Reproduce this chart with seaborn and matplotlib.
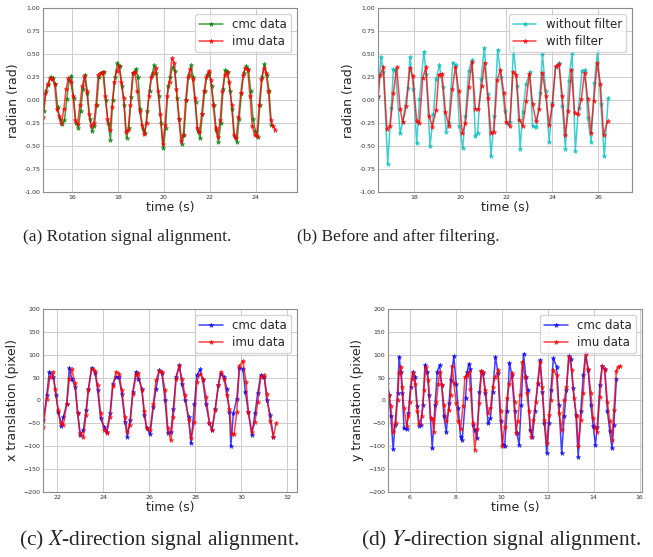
"""
Signal alignment figure: rotation, filtering, x / y translation.
Four panels with sub-captions, values read from the reference plots.
"""

import numpy as np
import pandas as pd
import matplotlib
matplotlib.use("Agg")
import matplotlib.pyplot as plt
import seaborn as sns

# ---------------------------------------------------------------- panel (a)
# rotation, sampled every 0.1 s
ROT_DT = 0.1
ROT_CMC_T0 = 14.78
ROT_CMC = [-0.12, 0.10, 0.17, 0.25, 0.24, 0.18, -0.07, -0.20, -0.26, -0.22,
           0.01, 0.22, 0.26, 0.02, -0.25, -0.30, -0.12, 0.12, 0.28, 0.08,
           -0.20, -0.33, -0.28, -0.05, 0.25, 0.30, 0.31, 0.00, -0.25, -0.43,
           0.00, 0.25, 0.40, 0.37, 0.15, -0.05, -0.41, -0.30, 0.04, 0.30,
           0.34, 0.25, -0.10, -0.31, -0.36, -0.12, 0.10, 0.27, 0.38, 0.30,
           0.05, -0.25, -0.52, -0.30, 0.15, 0.25, 0.36, 0.32, 0.03, -0.20,
           -0.48, -0.38, 0.00, 0.27, 0.38, 0.25, -0.02, -0.33, -0.41, -0.15,
           0.10, 0.27, 0.30, 0.15, -0.05, -0.32, -0.45, -0.25, 0.12, 0.33,
           0.31, 0.10, -0.10, -0.40, -0.45, -0.20, 0.08, 0.30, 0.37, 0.34,
           0.10, -0.20, -0.33, -0.40, -0.05, 0.25, 0.39, 0.28, 0.10, -0.27]
ROT_IMU_T0 = 14.75
ROT_IMU = [-0.18, 0.08, 0.18, 0.24, 0.23, 0.18, -0.10, -0.17, -0.25, -0.10,
           0.12, 0.24, 0.20, 0.05, -0.22, -0.26, -0.05, 0.15, 0.26, 0.10,
           -0.15, -0.28, -0.25, -0.05, 0.28, 0.30, 0.31, 0.05, -0.20, -0.32,
           -0.07, 0.20, 0.32, 0.37, 0.20, 0.03, -0.34, -0.32, -0.05, 0.30,
           0.31, 0.10, -0.12, -0.27, -0.37, -0.25, 0.05, 0.25, 0.30, 0.35,
           0.10, -0.15, -0.48, -0.27, 0.05, 0.20, 0.46, 0.41, 0.12, -0.20,
           -0.44, -0.38, 0.00, 0.25, 0.34, 0.23, 0.02, -0.30, -0.35, -0.15,
           0.10, 0.25, 0.32, 0.22, -0.05, -0.30, -0.40, -0.22, 0.10, 0.28,
           0.31, 0.20, -0.05, -0.38, -0.41, -0.18, 0.08, 0.28, 0.35, 0.33,
           0.05, -0.28, -0.38, -0.39, -0.05, 0.23, 0.35, 0.30, 0.10, -0.22,
           -0.28, -0.32]

# ---------------------------------------------------------------- panel (b)
RAW_T = [16.41, 16.55, 16.65, 16.84, 16.99, 17.09, 17.17, 17.38, 17.49, 17.71,
         17.81, 17.96, 18.10, 18.22, 18.41, 18.51, 18.68, 18.83, 18.94, 19.09,
         19.23, 19.38, 19.49, 19.67, 19.81, 19.96, 20.10, 20.22, 20.36, 20.51,
         20.65, 20.75, 20.90, 21.04, 21.19, 21.33, 21.48, 21.62, 21.77, 21.93,
         22.03, 22.17, 22.31, 22.46, 22.60, 22.71, 22.86, 23.03, 23.14, 23.31,
         23.46, 23.57, 23.71, 23.86, 24.00, 24.14, 24.29, 24.43, 24.57, 24.71,
         24.86, 25.00, 25.14, 25.29, 25.43, 25.54, 25.69, 25.83, 25.97, 26.11,
         26.26, 26.43]
RAW_V = [0.04, 0.47, 0.31, -0.69, -0.08, 0.34, 0.33, -0.36, -0.24, 0.13,
         0.47, 0.12, -0.47, 0.01, 0.53, 0.29, -0.50, -0.15, 0.23, 0.38,
         0.14, -0.34, -0.25, 0.41, 0.38, -0.28, -0.52, -0.17, 0.32, 0.44,
         -0.39, -0.36, 0.23, 0.57, 0.07, -0.61, -0.17, 0.55, 0.25, -0.12,
         -0.25, -0.24, 0.58, 0.15, -0.53, -0.13, 0.18, 0.31, -0.28, -0.29,
         0.08, 0.50, 0.10, -0.45, -0.03, 0.36, 0.40, -0.06, -0.53, 0.21,
         0.51, -0.55, -0.08, 0.32, 0.33, -0.19, -0.45, 0.19, 0.54, -0.04,
         -0.61, 0.02]
FILT_T = [16.43, 16.50, 16.65, 16.80, 16.94, 17.09, 17.23, 17.38, 17.49, 17.65,
          17.80, 17.93, 18.10, 18.22, 18.36, 18.50, 18.64, 18.78, 18.94, 19.06,
          19.20, 19.35, 19.50, 19.65, 19.78, 19.93, 20.08, 20.22, 20.36, 20.50,
          20.65, 20.78, 20.92, 21.05, 21.20, 21.33, 21.46, 21.60, 21.74, 21.89,
          22.00, 22.14, 22.29, 22.43, 22.57, 22.71, 22.86, 23.00, 23.14, 23.29,
          23.43, 23.57, 23.72, 23.86, 24.00, 24.14, 24.29, 24.43, 24.56, 24.69,
          24.83, 24.97, 25.11, 25.26, 25.40, 25.54, 25.67, 25.80, 25.95, 26.09,
          26.23, 26.40]
FILT_V = [0.05, 0.27, 0.36, -0.31, -0.28, 0.08, 0.36, -0.10, -0.24, -0.06,
          0.35, 0.26, -0.23, -0.25, 0.24, 0.36, -0.17, -0.29, -0.11, 0.28,
          0.29, -0.13, -0.28, 0.12, 0.36, 0.10, -0.36, -0.25, 0.14, 0.42,
          -0.09, -0.10, 0.15, 0.41, 0.02, -0.36, -0.34, 0.22, 0.33, 0.08,
          -0.24, -0.28, 0.31, 0.28, -0.21, -0.28, -0.01, 0.29, -0.04, -0.23,
          -0.10, 0.30, 0.05, -0.27, -0.05, 0.37, 0.39, 0.05, -0.38, -0.12,
          0.33, -0.14, -0.15, 0.01, 0.30, 0.01, -0.36, -0.01, 0.40, 0.18,
          -0.38, -0.23]

# ---------------------------------------------------------------- panel (c)
XCMC_T = [21.39, 21.54, 21.65, 21.83, 21.94, 22.04, 22.16, 22.26, 22.41, 22.52,
          22.62, 22.77, 22.88, 22.99, 23.13, 23.25, 23.35, 23.49, 23.64, 23.75,
          23.88, 24.03, 24.14, 24.29, 24.41, 24.55, 24.67, 24.80, 24.94, 25.04,
          25.16, 25.28, 25.42, 25.52, 25.67, 25.78, 25.88, 26.03, 26.17, 26.29,
          26.43, 26.54, 26.68, 26.80, 26.93, 27.04, 27.16, 27.30, 27.41, 27.55,
          27.70, 27.81, 27.96, 28.06, 28.20, 28.32, 28.46, 28.61, 28.72, 28.86,
          29.00, 29.10, 29.25, 29.36, 29.48, 29.54, 29.65, 29.80, 29.91, 30.06,
          30.17, 30.30, 30.45, 30.59, 30.71, 30.84, 30.99, 31.10, 31.25, 31.39]
XCMC_V = [-43, 12, 63, 52, 12, -25, -56, -36, -7, 72,
          48, 30, -27, -76, -65, -20, 26, 72, 61, 23,
          -39, -58, -69, -28, 36, 52, 52, 15, -47, -80,
          -42, 19, 63, 48, 26, -32, -61, -74, -14, 26,
          66, 61, 1, -71, -69, -18, 52, 77, 37, 2,
          -36, -94, -7, 55, 68, 45, -8, -49, -65, -18,
          34, 59, 52, 26, -25, -100, -28, 4, 72, 70,
          19, -25, -76, -28, 17, 55, 52, 2, -32, -80]
XIMU_T = [21.39, 21.54, 21.68, 21.80, 21.90, 22.04, 22.16, 22.26, 22.41, 22.52,
          22.62, 22.77, 22.88, 22.99, 23.13, 23.25, 23.35, 23.49, 23.64, 23.75,
          23.88, 24.03, 24.14, 24.29, 24.41, 24.55, 24.67, 24.80, 24.94, 25.04,
          25.16, 25.28, 25.42, 25.52, 25.67, 25.78, 25.88, 26.03, 26.17, 26.29,
          26.43, 26.54, 26.68, 26.80, 26.93, 27.04, 27.16, 27.30, 27.41, 27.55,
          27.70, 27.81, 27.96, 28.06, 28.20, 28.32, 28.46, 28.61, 28.72, 28.86,
          29.00, 29.10, 29.25, 29.36, 29.48, 29.58, 29.68, 29.80, 29.91, 30.06,
          30.20, 30.30, 30.45, 30.59, 30.71, 30.84, 30.99, 31.10, 31.25, 31.39,
          31.51]
XIMU_V = [-58, 4, 52, 63, 26, -21, -50, -54, -7, 48,
          68, 39, -27, -72, -80, -32, 23, 70, 65, 34,
          -28, -64, -72, -36, 31, 63, 59, 23, -37, -69,
          -54, 15, 55, 61, 23, -23, -61, -65, -7, 45,
          65, 63, 23, -61, -87, -36, 48, 75, 48, 12,
          -43, -83, -47, 41, 59, 48, 8, -49, -65, -21,
          34, 63, 46, 12, -18, -74, -74, -25, 75, 87,
          41, -25, -69, -47, -3, 52, 55, 15, -45, -80,
          -49]

# ---------------------------------------------------------------- panel (d)
YCMC_T = [5.03, 5.10, 5.18, 5.28, 5.36, 5.47, 5.54, 5.61, 5.68, 5.75,
          5.86, 5.94, 6.04, 6.14, 6.23, 6.33, 6.40, 6.48, 6.58, 6.66,
          6.77, 6.84, 6.98, 7.10, 7.20, 7.30, 7.39, 7.49, 7.59, 7.71,
          7.78, 7.92, 8.02, 8.11, 8.21, 8.28, 8.43, 8.50, 8.57, 8.64,
          8.75, 8.83, 8.93, 9.03, 9.12, 9.18, 9.29, 9.41, 9.51, 9.61,
          9.73, 9.84, 9.95, 10.05, 10.13, 10.23, 10.34, 10.44, 10.56, 10.66,
          10.76, 10.85, 10.95, 11.05, 11.13, 11.24, 11.34, 11.45, 11.57, 11.67,
          11.77, 11.86, 11.96, 12.06, 12.14, 12.25, 12.39, 12.49, 12.61, 12.72,
          12.82, 12.92, 13.01, 13.11, 13.23, 13.33, 13.44, 13.55, 13.65, 13.76,
          13.88, 13.98, 14.08, 14.16, 14.27, 14.37, 14.48, 14.60, 14.70, 14.80,
          14.88, 14.99]
YCMC_V = [48, 12, -35, -107, -54, 16, 96, 63, 16, -61,
          -63, -28, 30, 63, 52, -13, -55, -53, -10, 78,
          63, 12, -105, -10, 63, 78, 34, -35, -70, -6,
          45, 97, 37, -17, -80, -87, 5, 63, 80, 70,
          -54, -65, -83, 19, 65, 60, 16, -50, -39, 19,
          96, 60, -46, -97, -100, -24, 83, 56, -24, -72,
          -97, -10, 102, 52, 23, -65, -79, -24, 37, 89,
          19, -50, -116, -50, 24, 92, 74, -10, -116, -35,
          23, 97, 90, 27, -32, -124, -24, 56, 103, 67,
          -10, -56, -98, -57, 34, 75, 70, -24, -66, -105,
          -54, 46]
YIMU_T = [5.03, 5.10, 5.18, 5.28, 5.39, 5.47, 5.54, 5.61, 5.68, 5.75,
          5.86, 5.94, 6.00, 6.09, 6.14, 6.23, 6.33, 6.40, 6.52, 6.62,
          6.69, 6.81, 6.91, 6.98, 7.05, 7.16, 7.24, 7.30, 7.39, 7.49,
          7.59, 7.71, 7.78, 7.85, 7.92, 8.02, 8.11, 8.21, 8.32, 8.40,
          8.50, 8.57, 8.64, 8.75, 8.83, 8.93, 9.03, 9.12, 9.18, 9.29,
          9.41, 9.51, 9.61, 9.73, 9.84, 9.95, 10.02, 10.13, 10.23, 10.34,
          10.45, 10.56, 10.62, 10.70, 10.80, 10.90, 11.02, 11.09, 11.19, 11.28,
          11.38, 11.48, 11.57, 11.67, 11.77, 11.86, 11.96, 12.06, 12.14, 12.25,
          12.39, 12.49, 12.61, 12.72, 12.82, 12.92, 13.04, 13.15, 13.26, 13.33,
          13.44, 13.55, 13.65, 13.76, 13.88, 13.98, 14.08, 14.16, 14.27, 14.37,
          14.48, 14.60, 14.70, 14.80, 14.88, 14.99, 15.06, 15.15]
YIMU_V = [35, 12, -13, -70, -50, 1, 61, 74, 30, -17,
          -55, -35, -3, 48, 61, 37, -24, -52, -35, 23,
          74, 45, -38, -40, -68, -3, 36, 62, 34, -10,
          -45, -21, 12, 75, 38, -5, -45, -62, -12, 52,
          55, 63, 26, -50, -108, -62, -6, 65, 63, 23,
          -28, -17, 30, 52, 66, -24, -100, -57, 5, 37,
          60, -3, -72, -46, 12, 85, 52, 17, -24, -79,
          -43, -3, 39, 85, 30, -43, -94, -32, 0, 67,
          56, -28, -65, 1, 30, 96, 67, 5, -35, -100,
          -43, 16, 102, 70, 16, -39, -61, -68, 8, 75,
          67, -3, -46, -86, -21, 65, 73, 76]

CAPTIONS = ["(a) Rotation signal alignment.",
            "(b) Before and after filtering.",
            "(c) $X$-direction signal alignment.",
            "(d) $Y$-direction signal alignment."]

GREEN, RED, BLUE, CYAN = "#008000", "#ff0000", "#0000ff", "#00bfbf"


def clock(t0, values):
    return t0 + ROT_DT * np.arange(len(values))


def draw_pair(ax, series, xlim, xticks, ylim, yticks, ylabel):
    for t, v, color, label in series:
        df = pd.DataFrame({"t": t, "v": v})
        sns.lineplot(data=df, x="t", y="v", ax=ax, color=color, label=label,
                     marker="*", markersize=3.5, markeredgecolor=color,
                     markeredgewidth=0.4, linewidth=1.1, alpha=0.75,
                     sort=False, estimator=None)
    ax.set_xlim(*xlim)
    ax.set_ylim(*ylim)
    ax.set_xticks(xticks)
    ax.set_yticks(yticks)
    ax.set_xlabel("time (s)", fontsize=9, labelpad=1)
    ax.set_ylabel(ylabel, fontsize=9, labelpad=3)
    ax.tick_params(labelsize=4.5, length=0, pad=2, colors="#333333")
    ax.legend(loc="upper right", fontsize=8.5, framealpha=0.8,
              borderpad=0.35, labelspacing=0.3, handletextpad=0.8)


sns.set_theme(style="whitegrid")
plt.rcParams["font.family"] = ["DejaVu Sans"]
plt.rcParams["mathtext.fontset"] = "stix"
plt.rcParams["axes.edgecolor"] = "0.55"
plt.rcParams["axes.linewidth"] = 0.8
plt.rcParams["grid.color"] = "0.8"
plt.rcParams["grid.linewidth"] = 0.7

fig = plt.figure(figsize=(6.53, 5.57), dpi=100)
ax_a = fig.add_axes([0.066, 0.655, 0.389, 0.330])
ax_b = fig.add_axes([0.579, 0.655, 0.389, 0.330])
ax_c = fig.add_axes([0.066, 0.117, 0.389, 0.328])
ax_d = fig.add_axes([0.594, 0.117, 0.389, 0.328])

rad_ticks = np.arange(-1.0, 1.01, 0.25)
pix_ticks = np.arange(-200, 201, 50)

draw_pair(ax_a,
          [(clock(ROT_CMC_T0, ROT_CMC), ROT_CMC, GREEN, "cmc data"),
           (clock(ROT_IMU_T0, ROT_IMU), ROT_IMU, RED, "imu data")],
          (14.75, 25.8), [16, 18, 20, 22, 24], (-1, 1), rad_ticks,
          "radian (rad)")
draw_pair(ax_b,
          [(RAW_T, RAW_V, CYAN, "without filter"),
           (FILT_T, FILT_V, RED, "with filter")],
          (16.42, 27.47), [18, 20, 22, 24, 26], (-1, 1), rad_ticks,
          "radian (rad)")
draw_pair(ax_c,
          [(XCMC_T, XCMC_V, BLUE, "cmc data"),
           (XIMU_T, XIMU_V, RED, "imu data")],
          (21.38, 32.42), [22, 24, 26, 28, 30, 32], (-200, 200), pix_ticks,
          "x translation (pixel)")
draw_pair(ax_d,
          [(YCMC_T, YCMC_V, BLUE, "cmc data"),
           (YIMU_T, YIMU_V, RED, "imu data")],
          (5.05, 16.1), [6, 8, 10, 12, 14, 16], (-200, 200), pix_ticks,
          "y translation (pixel)")

for ax in (ax_a, ax_b):
    ax.yaxis.set_major_formatter(matplotlib.ticker.FormatStrFormatter("%.2f"))

# captions: (x, y, size) -- the lower row is set larger in the source
cap_pos = [(0.195, 0.574, 12.5), (0.610, 0.574, 12.5),
           (0.244, 0.030, 15.5), (0.767, 0.030, 15.5)]
for (x, y, size), text in zip(cap_pos, CAPTIONS):
    fig.text(x, y, text, ha="center", va="center", fontsize=size,
             family="Liberation Serif")

fig.savefig("out.png", dpi=100)
